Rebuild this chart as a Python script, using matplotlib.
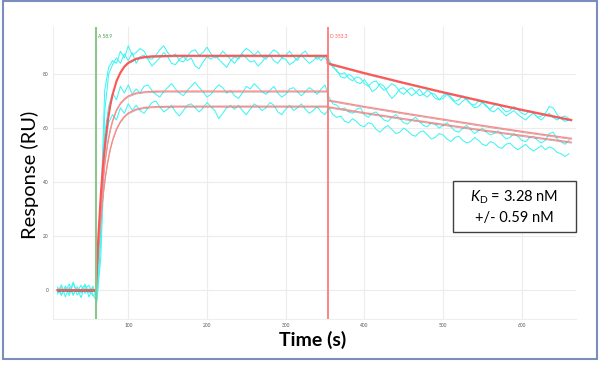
import numpy as np
import matplotlib
matplotlib.use("Agg")
import matplotlib.pyplot as plt
from matplotlib.patches import Rectangle
import matplotlib.transforms as mtransforms

plt.rcParams['font.family'] = ['Lato', 'DejaVu Sans']
plt.rcParams['mathtext.fontset'] = 'custom'
plt.rcParams['mathtext.rm'] = 'Lato'
plt.rcParams['mathtext.it'] = 'Lato:italic'

# ---------------- data ----------------
time = np.arange(10, 661, 5)   # sampling grid of the sensorgrams (s)

trace_a1 = [
    1.2, -1.5, 0.8, -2.0, 2.5, -0.5, 1.8, -1.2, 0.5, -2.2,
    -1.0, 30.0, 74.0, 82.5, 85.0, 84.0, 88.5, 86.0, 90.5, 87.0,
    88.0, 89.5, 88.5, 86.0, 85.5, 87.0, 89.0, 90.5, 88.0, 86.5,
    87.5, 85.0, 84.5, 86.5, 88.5, 89.0, 87.0, 88.0, 90.0, 87.5,
    86.0, 86.5, 88.5, 87.0, 85.5, 84.0, 86.0, 88.0, 89.5, 88.5,
    87.0, 88.5, 86.5, 85.5, 87.5, 89.0, 88.0, 86.0, 87.0, 88.5,
    86.5, 85.0, 87.5, 88.5, 86.5, 87.0, 85.5, 86.5, 86.0,
    84.5, 83.0, 81.0, 80.0, 80.5, 78.5, 77.5, 79.0, 78.5, 76.5,
    75.5, 77.0, 77.5, 75.5, 74.0, 75.0, 76.5, 75.5, 73.5, 72.5,
    74.0, 75.0, 73.5, 72.0, 72.5, 74.0, 73.0, 71.0, 70.5, 72.0,
    73.0, 71.5, 70.0, 70.5, 72.0, 70.5, 69.0, 68.5, 70.0, 69.5,
    68.0, 67.0, 68.5, 69.0, 67.5, 66.0, 66.5, 68.0, 67.0, 65.5,
    65.0, 66.5, 65.5, 64.0, 64.5, 65.5, 68.0, 67.5, 65.0, 63.5,
    62.5, 63.0]

trace_a2 = [
    -0.8, 2.0, -2.5, 1.0, -1.5, 0.5, -2.8, 2.2, -1.0, 1.5,
    -3.5, 18.0, 66.0, 80.0, 83.5, 86.0, 84.0, 87.5, 85.0, 88.0,
    84.0, 86.5, 87.0, 85.5, 83.0, 84.5, 86.0, 88.0, 86.5, 84.0,
    83.5, 85.5, 86.5, 85.0, 86.0, 83.0, 82.0, 84.5, 86.5, 85.5,
    87.0, 85.5, 84.0, 82.5, 85.0, 86.5, 85.5, 87.5, 86.0, 84.5,
    85.0, 83.0, 84.5, 86.5, 87.0, 85.0, 84.0, 86.0, 85.5, 83.5,
    84.5, 86.0, 87.0, 85.5, 84.0, 85.0, 86.5, 85.0, 87.0,
    85.5, 82.5, 81.5, 79.0, 78.5, 80.0, 79.0, 77.0, 76.5, 78.0,
    76.0, 73.5, 74.5, 76.5, 75.5, 73.0, 71.0, 72.5, 74.5, 75.0,
    73.5, 72.0, 73.0, 74.5, 72.5, 71.5, 73.0, 72.5, 70.5, 71.0,
    72.5, 71.0, 69.5, 68.5, 70.0, 71.0, 69.0, 67.5, 68.0, 69.5,
    68.5, 66.5, 66.0, 67.5, 66.0, 64.5, 65.5, 66.5, 65.0, 64.0,
    63.0, 64.5, 65.5, 64.0, 63.0, 64.5, 65.5, 64.0, 63.0, 64.0,
    64.5, 63.5]

trace_b = [
    0.5, -2.0, 1.5, -1.0, 3.0, -1.8, 0.2, 2.0, -2.5, 0.8,
    -2.0, 22.0, 58.0, 68.0, 73.0, 70.5, 75.5, 73.0, 76.0, 72.5,
    74.5, 73.0, 75.5, 76.0, 74.0, 72.5, 71.5, 73.5, 75.0, 76.5,
    74.5, 73.0, 72.0, 74.0, 75.5, 77.0, 75.0, 73.5, 71.5, 72.5,
    74.5, 76.0, 75.0, 73.0, 74.0, 72.0, 71.0, 73.0, 75.5, 74.5,
    76.5, 75.0, 73.5, 72.5, 74.0, 75.5, 73.0, 71.5, 72.5, 74.5,
    75.0, 73.5, 72.0, 73.5, 75.0, 74.0, 72.5, 74.5, 76.0,
    71.5, 69.0, 68.5, 67.0, 67.5, 66.0, 65.5, 67.0, 67.5, 65.0,
    64.0, 65.5, 66.0, 64.5, 63.0, 62.5, 64.0, 65.0, 63.5, 62.0,
    61.5, 63.0, 64.0, 62.5, 61.0, 60.5, 62.0, 61.5, 60.0, 61.0,
    62.0, 60.5, 59.0, 58.5, 60.0, 61.0, 59.5, 58.0, 59.0, 60.0,
    58.5, 57.5, 58.0, 59.0, 57.5, 56.0, 56.5, 58.0, 57.0, 55.5,
    55.0, 56.5, 57.0, 55.5, 54.5, 55.5, 58.0, 58.5, 56.0, 55.0,
    54.0, 55.5]

trace_c = [
    -1.5, 1.0, -0.5, 2.2, -2.0, 1.2, -1.0, 0.5, 1.8, -1.5,
    -4.5, 12.0, 50.0, 62.0, 65.0, 63.0, 67.5, 65.5, 69.0, 66.5,
    68.5, 66.5, 65.5, 67.5, 69.5, 70.0, 68.0, 66.0, 67.0, 68.5,
    66.0, 64.5, 66.5, 68.5, 69.0, 67.5, 66.0, 67.5, 69.5, 68.0,
    66.5, 63.5, 65.5, 67.5, 68.5, 67.0, 68.5, 66.5, 65.0, 67.0,
    69.0, 68.0, 66.5, 67.5, 69.5, 68.5, 66.0, 65.0, 67.0, 68.5,
    66.5, 67.5, 69.0, 67.0, 65.5, 66.5, 68.0, 66.0, 65.0,
    67.5, 65.0, 64.0, 64.5, 62.5, 62.0, 63.5, 62.5, 61.0, 60.5,
    62.0, 61.5, 59.5, 58.5, 60.0, 61.0, 59.5, 58.0, 58.5, 60.0,
    59.0, 57.5, 57.0, 58.5, 59.0, 57.5, 56.0, 56.5, 58.0, 57.5,
    56.0, 55.0, 56.5, 57.0, 55.5, 54.5, 55.0, 56.5, 55.5, 54.0,
    53.5, 55.0, 54.5, 53.0, 52.5, 54.0, 54.5, 53.0, 52.0, 53.0,
    54.0, 52.5, 51.5, 52.5, 53.5, 52.0, 53.0, 52.5, 51.0, 50.5,
    49.5, 50.5]

fit_time = [10, 58.9, 62, 65, 68, 71, 74, 77, 80, 85, 90, 95, 100, 110, 120,
            130, 145, 160, 353.3, 353.3, 400, 450, 500, 550, 600, 663]
fit_high = [0, 0, 20.1, 35.1, 46.8, 55.7, 62.8, 68.2, 72.4, 77.4, 80.6, 82.8,
            84.2, 85.7, 86.3, 86.6, 86.7, 86.8, 86.8, 84.0, 80.4, 76.8, 73.3,
            70.0, 66.8, 63.0]
fit_mid = [0, 0, 17.9, 31.1, 41.2, 48.9, 54.8, 59.2, 62.7, 66.7, 69.2, 70.8,
           71.9, 73.0, 73.4, 73.6, 73.7, 73.7, 73.7, 70.4, 68.0, 65.6, 63.3,
           61.0, 58.8, 56.2]
fit_low = [0, 0, 15.0, 26.3, 35.2, 42.2, 47.7, 52.1, 55.5, 59.7, 62.4, 64.3,
           65.6, 67.0, 67.6, 67.9, 68.0, 68.1, 68.1, 67.9, 65.7, 63.5, 61.4,
           59.3, 57.3, 54.8]

assoc_start = 58.9
dissoc_start = 353.3
x_ticks = [100, 200, 300, 400, 500, 600]
y_ticks = [0, 20, 40, 60, 80]
kd_line1 = r"$K_\mathrm{D}$ = 3.28 nM"
kd_line2 = "+/- 0.59 nM"

# ---------------- figure ----------------
fig = plt.figure(figsize=(6, 3.67), dpi=100)
ax = fig.add_axes([0.0878, 0.1308, 0.8722, 0.7952])
ax.set_xlim(3.9, 669)
ax.set_ylim(-10.7, 97.4)

ax.grid(True, color='#ececec', lw=0.8)
ax.set_axisbelow(True)
for s in ['top', 'right']:
    ax.spines[s].set_visible(False)
for s in ['left', 'bottom']:
    ax.spines[s].set_color('#eeeeee')
ax.set_xticks(x_ticks)
ax.set_yticks(y_ticks)
ax.tick_params(length=0, labelsize=3.5, labelcolor='#555555', pad=3)

cyan = '#40f4f4'
for tr in [trace_c, trace_b, trace_a2, trace_a1]:
    ax.plot(time, tr, color=cyan, lw=0.75, zorder=2)

shift = mtransforms.offset_copy(ax.transData, fig=fig, x=0, y=-1.0, units='dots')
for fv in [fit_low, fit_mid, fit_high]:
    ax.plot(fit_time, fv, color='#555555', lw=0.6, alpha=0.45, transform=shift, zorder=3)
ax.plot(fit_time, fit_low, color='#ff8a8a', lw=1.0, zorder=4)
ax.plot(fit_time, fit_mid, color='#ff8a8a', lw=1.0, zorder=4)
ax.plot(fit_time, fit_high, color='#ff5555', lw=1.5, zorder=5)

ax.axvline(assoc_start, color='#8cc68c', lw=1.5, zorder=6)
ax.axvline(dissoc_start, color='#ff7a7a', lw=1.3, zorder=6)
ax.text(assoc_start + 3, 93.8, "A 58.9", fontsize=3.5, color='#4a9a4a', va='center')
ax.text(dissoc_start + 3, 93.8, "D 353.3", fontsize=3.5, color='#ff5a5a', va='center')

# axis titles
fig.text(313 / 600, 1 - 340 / 367, "Time (s)", ha='center', va='center',
         fontsize=14, fontweight='bold')
fig.text(30 / 600, 1 - 175 / 367, "Response (RU)", ha='center', va='center',
         fontsize=14.5, rotation=90)

# KD box
fig.patches.append(Rectangle((452.7 / 600, 1 - 232 / 367), 123 / 600, 51 / 367,
                             transform=fig.transFigure, facecolor='white',
                             edgecolor='#404040', lw=1.0, zorder=10))
fig.text(514 / 600, 1 - 197 / 367, kd_line1, ha='center', va='center',
         fontsize=10.5, zorder=11)
fig.text(514 / 600, 1 - 218 / 367, kd_line2, ha='center', va='center',
         fontsize=10.5, zorder=11)

# outer frame
fig.patches.append(Rectangle((3 / 600, 1 - 359 / 367), 594 / 600, 358 / 367,
                             transform=fig.transFigure, facecolor='none',
                             edgecolor='#7b8cbf', lw=1.5, zorder=12))

fig.savefig("out.png", dpi=100)
